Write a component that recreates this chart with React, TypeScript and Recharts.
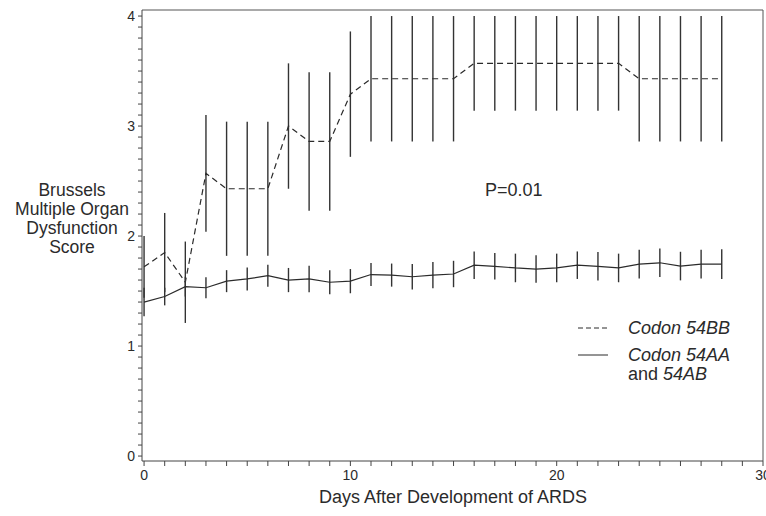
import React from 'react';
import { ComposedChart, Line, XAxis, YAxis, ErrorBar, ReferenceLine } from 'recharts';

// days after development of ARDS
const days = [0, 1, 2, 3, 4, 5, 6, 7, 8, 9, 10, 11, 12, 13, 14, 15, 16, 17, 18, 19, 20, 21, 22, 23, 24, 25, 26, 27, 28];

// Codon 54BB (dashed)
const bbMean = [1.72, 1.85, 1.58, 2.57, 2.43, 2.43, 2.43, 3.0, 2.86, 2.86, 3.29, 3.43, 3.43, 3.43, 3.43, 3.43, 3.57, 3.57, 3.57, 3.57, 3.57, 3.57, 3.57, 3.57, 3.43, 3.43, 3.43, 3.43, 3.43];
const bbErr = [0.28, 0.36, 0.37, 0.53, 0.61, 0.61, 0.61, 0.57, 0.63, 0.63, 0.57, 0.57, 0.57, 0.57, 0.57, 0.57, 0.43, 0.43, 0.43, 0.43, 0.43, 0.43, 0.43, 0.43, 0.57, 0.57, 0.57, 0.57, 0.57];

// Codon 54AA and 54AB (solid)
const aaMean = [1.4, 1.45, 1.54, 1.53, 1.59, 1.61, 1.64, 1.6, 1.61, 1.58, 1.59, 1.65, 1.645, 1.63, 1.645, 1.655, 1.735, 1.725, 1.71, 1.7, 1.71, 1.735, 1.725, 1.71, 1.745, 1.757, 1.727, 1.745, 1.745];
const aaErr = [0.13, 0.08, 0.09, 0.095, 0.1, 0.105, 0.1, 0.11, 0.12, 0.11, 0.11, 0.105, 0.105, 0.115, 0.12, 0.12, 0.125, 0.12, 0.13, 0.125, 0.13, 0.125, 0.13, 0.13, 0.13, 0.13, 0.13, 0.13, 0.135];

const xTicks = [0, 1, 2, 3, 4, 5, 6, 7, 8, 9, 10, 11, 12, 13, 14, 15, 16, 17, 18, 19, 20, 21, 22, 23, 24, 25, 26, 27, 28, 29, 30];
const yTicks = [0, 0.1, 0.2, 0.3, 0.4, 0.5, 0.6, 0.7, 0.8, 0.9, 1, 1.1, 1.2, 1.3, 1.4, 1.5, 1.6, 1.7, 1.8, 1.9, 2, 2.1, 2.2, 2.3, 2.4, 2.5, 2.6, 2.7, 2.8, 2.9, 3, 3.1, 3.2, 3.3, 3.4, 3.5, 3.6, 3.7, 3.8, 3.9, 4];
const xLabelTicks = [0, 10, 20, 30];
const yLabelTicks = [0, 1, 2, 3, 4];

const rows = days.map((d, i) => ({
  day: d,
  bb: bbMean[i],
  bbErr: bbErr[i],
  aa: aaMean[i],
  aaErr: aaErr[i],
}));

const font = '"Liberation Sans", Arial, sans-serif';
const ink = '#2b2b2b';
const xDomain = [-0.1, 30];
const yDomain = [-0.045, 4.055];

// legend drawn as an overlay so it takes no room from the plot
const LegendBox = () => (
  <div
    style={{
      position: 'absolute',
      left: 578,
      top: 318,
      fontFamily: font,
      fontSize: 18,
      color: ink,
      lineHeight: '19px',
    }}
  >
    <div style={{ display: 'flex', alignItems: 'center', height: 20 }}>
      <svg width={50} height={4}>
        <line x1={0} y1={2} x2={30} y2={2} stroke={ink} strokeDasharray="5 3" />
      </svg>
      <span style={{ fontStyle: 'italic' }}>Codon 54BB</span>
    </div>
    <div style={{ display: 'flex', alignItems: 'flex-start', marginTop: 8 }}>
      <svg width={50} height={19} style={{ flex: 'none' }}>
        <line x1={0} y1={9} x2={30} y2={9} stroke={ink} />
      </svg>
      <span>
        <i>Codon 54AA</i>
        <br />
        and <i>54AB</i>
      </span>
    </div>
  </div>
);

export default function App() {
  return (
    <div style={{ position: 'absolute', left: 0, top: 0, width: 766, height: 516, background: '#fff' }}>
      <ComposedChart width={766} height={516} data={rows} margin={{ top: 10, right: 3, left: 0, bottom: 0 }}>
        <XAxis
          dataKey="day"
          type="number"
          domain={xDomain}
          allowDataOverflow
          ticks={xTicks}
          interval={0}
          height={55}
          tickSize={5}
          tickMargin={4}
          tickFormatter={(v: number) => (xLabelTicks.includes(v) ? String(v) : '')}
          tick={{ fontSize: 14, fill: ink, fontFamily: font }}
          axisLine={{ stroke: '#444' }}
          tickLine={{ stroke: '#444' }}
        />
        <YAxis
          type="number"
          domain={yDomain}
          allowDataOverflow
          ticks={yTicks}
          interval={0}
          width={142}
          tickSize={4}
          tickMargin={3}
          tickFormatter={(v: number) => (yLabelTicks.includes(v) ? String(v) : '')}
          tick={{ fontSize: 14, fill: ink, fontFamily: font }}
          axisLine={{ stroke: '#444' }}
          tickLine={{ stroke: '#444' }}
        />
        <ReferenceLine y={yDomain[1]} stroke="#555" />
        <ReferenceLine x={xDomain[1]} stroke="#555" />
        <Line
          dataKey="bb"
          name="Codon 54BB"
          stroke={ink}
          strokeWidth={1.2}
          strokeDasharray="6 4"
          dot={false}
          isAnimationActive={false}
        >
          <ErrorBar dataKey="bbErr" direction="y" width={0} stroke="#333" strokeWidth={1.4} isAnimationActive={false} />
        </Line>
        <Line
          dataKey="aa"
          name="Codon 54AA and 54AB"
          stroke={ink}
          strokeWidth={1.2}
          dot={false}
          isAnimationActive={false}
        >
          <ErrorBar dataKey="aaErr" direction="y" width={0} stroke="#333" strokeWidth={1.4} isAnimationActive={false} />
        </Line>
      </ComposedChart>
      <LegendBox />
      <div
        style={{
          position: 'absolute',
          left: 2,
          top: 181,
          width: 140,
          textAlign: 'center',
          fontFamily: font,
          fontSize: 17.5,
          lineHeight: '19px',
          color: ink,
        }}
      >
        Brussels
        <br />
        Multiple Organ
        <br />
        Dysfunction
        <br />
        Score
      </div>
      <div style={{ position: 'absolute', left: 485, top: 180, fontFamily: font, fontSize: 18, lineHeight: '20px', color: ink }}>
        P=0.01
      </div>
      <div
        style={{
          position: 'absolute',
          left: 253,
          top: 487,
          width: 400,
          textAlign: 'center',
          fontFamily: font,
          fontSize: 18,
          lineHeight: '20px',
          color: ink,
        }}
      >
        Days After Development of ARDS
      </div>
    </div>
  );
}
